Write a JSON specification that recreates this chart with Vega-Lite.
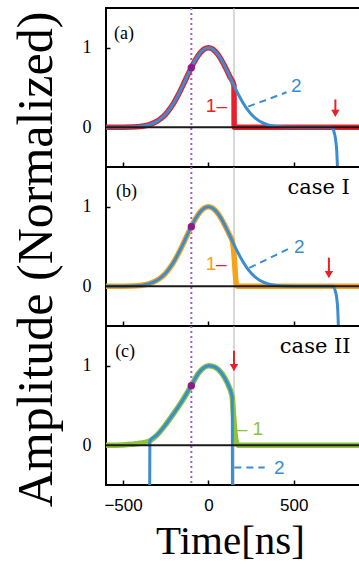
{
  "$schema": "https://vega.github.io/schema/vega-lite/v6.json",
  "padding": {"left": 9, "top": 6, "right": 0, "bottom": 0},
  "spacing": 0,
  "bounds": "flush",
  "config": {
    "view": {"stroke": "black", "strokeWidth": 2},
    "axis": {"grid": false, "domain": false, "tickColor": "black", "labelColor": "black", "titleColor": "black"}
  },
  "datasets": {
    "a1": [{"x":-600,"y":0},{"x":-550,"y":0.0002},{"x":-500,"y":0.0008},{"x":-450,"y":0.003},{"x":-400,"y":0.010},{"x":-350,"y":0.030},{"x":-300,"y":0.076},{"x":-275,"y":0.114},{"x":-250,"y":0.166},{"x":-225,"y":0.234},{"x":-200,"y":0.317},{"x":-175,"y":0.415},{"x":-150,"y":0.524},{"x":-125,"y":0.639},{"x":-100,"y":0.750},{"x":-75,"y":0.851},{"x":-50,"y":0.931},{"x":-25,"y":0.982},{"x":0,"y":1},{"x":25,"y":0.982},{"x":50,"y":0.931},{"x":75,"y":0.851},{"x":100,"y":0.750},{"x":125,"y":0.639},{"x":150,"y":0.524},{"x":151,"y":0},{"x":900,"y":0}],
    "a2": [{"x":-600,"y":0},{"x":-550,"y":0.0002},{"x":-500,"y":0.0008},{"x":-450,"y":0.003},{"x":-400,"y":0.010},{"x":-350,"y":0.030},{"x":-300,"y":0.076},{"x":-275,"y":0.114},{"x":-250,"y":0.166},{"x":-225,"y":0.234},{"x":-200,"y":0.317},{"x":-175,"y":0.415},{"x":-150,"y":0.524},{"x":-125,"y":0.639},{"x":-100,"y":0.750},{"x":-75,"y":0.851},{"x":-50,"y":0.931},{"x":-25,"y":0.982},{"x":0,"y":1},{"x":25,"y":0.982},{"x":50,"y":0.931},{"x":75,"y":0.851},{"x":100,"y":0.750},{"x":125,"y":0.639},{"x":150,"y":0.524},{"x":175,"y":0.415},{"x":200,"y":0.317},{"x":225,"y":0.234},{"x":250,"y":0.166},{"x":275,"y":0.114},{"x":300,"y":0.076},{"x":350,"y":0.030},{"x":400,"y":0.010},{"x":450,"y":0.003},{"x":500,"y":0.0008},{"x":550,"y":0.0002},{"x":600,"y":0},{"x":700,"y":0},{"x":722,"y":0},{"x":735,"y":-0.05},{"x":745,"y":-0.15},{"x":752,"y":-0.3},{"x":758,"y":-0.6}],
    "b1": [{"x":-600,"y":0},{"x":-550,"y":0.0002},{"x":-500,"y":0.0008},{"x":-450,"y":0.003},{"x":-400,"y":0.010},{"x":-350,"y":0.030},{"x":-300,"y":0.076},{"x":-275,"y":0.114},{"x":-250,"y":0.166},{"x":-225,"y":0.234},{"x":-200,"y":0.317},{"x":-175,"y":0.415},{"x":-150,"y":0.524},{"x":-125,"y":0.639},{"x":-100,"y":0.750},{"x":-75,"y":0.851},{"x":-50,"y":0.931},{"x":-25,"y":0.982},{"x":0,"y":1},{"x":25,"y":0.982},{"x":50,"y":0.931},{"x":75,"y":0.851},{"x":100,"y":0.750},{"x":125,"y":0.639},{"x":140,"y":0.57},{"x":148,"y":0.45},{"x":154,"y":0.28},{"x":159,"y":0.12},{"x":163,"y":0.03},{"x":168,"y":0},{"x":900,"y":0}],
    "b2": [{"x":-600,"y":0},{"x":-550,"y":0.0002},{"x":-500,"y":0.0008},{"x":-450,"y":0.003},{"x":-400,"y":0.010},{"x":-350,"y":0.030},{"x":-300,"y":0.076},{"x":-275,"y":0.114},{"x":-250,"y":0.166},{"x":-225,"y":0.234},{"x":-200,"y":0.317},{"x":-175,"y":0.415},{"x":-150,"y":0.524},{"x":-125,"y":0.639},{"x":-100,"y":0.750},{"x":-75,"y":0.851},{"x":-50,"y":0.931},{"x":-25,"y":0.982},{"x":0,"y":1},{"x":25,"y":0.982},{"x":50,"y":0.931},{"x":75,"y":0.851},{"x":100,"y":0.750},{"x":125,"y":0.639},{"x":150,"y":0.524},{"x":175,"y":0.415},{"x":200,"y":0.317},{"x":225,"y":0.234},{"x":250,"y":0.166},{"x":275,"y":0.114},{"x":300,"y":0.076},{"x":350,"y":0.030},{"x":400,"y":0.010},{"x":450,"y":0.003},{"x":500,"y":0.0008},{"x":550,"y":0.0002},{"x":600,"y":0},{"x":700,"y":0},{"x":730,"y":0},{"x":742,"y":-0.05},{"x":752,"y":-0.15},{"x":758,"y":-0.3},{"x":763,"y":-0.6}],
    "c1": [{"x":-600,"y":0},{"x":-550,"y":0.001},{"x":-500,"y":0.004},{"x":-450,"y":0.012},{"x":-400,"y":0.025},{"x":-343,"y":0.055},{"x":-300,"y":0.13},{"x":-250,"y":0.26},{"x":-200,"y":0.41},{"x":-150,"y":0.57},{"x":-100,"y":0.75},{"x":-60,"y":0.9},{"x":-30,"y":0.97},{"x":0,"y":1},{"x":30,"y":0.99},{"x":60,"y":0.95},{"x":95,"y":0.85},{"x":120,"y":0.74},{"x":135,"y":0.65},{"x":140,"y":0.6},{"x":146,"y":0.42},{"x":152,"y":0.24},{"x":158,"y":0.11},{"x":165,"y":0.03},{"x":175,"y":0},{"x":900,"y":0}],
    "c2": [{"x":-344,"y":-0.6},{"x":-343,"y":0.055},{"x":-300,"y":0.13},{"x":-250,"y":0.26},{"x":-200,"y":0.41},{"x":-150,"y":0.57},{"x":-100,"y":0.75},{"x":-60,"y":0.9},{"x":-30,"y":0.97},{"x":0,"y":1},{"x":30,"y":0.99},{"x":60,"y":0.95},{"x":95,"y":0.85},{"x":120,"y":0.74},{"x":135,"y":0.65},{"x":140,"y":0.6},{"x":141,"y":-0.6}],
    "at": [{"x":47,"y":0.27,"t":"1–","s":"r"},{"x":515,"y":0.52,"t":"2","s":"b"}],
    "bt": [{"x":15,"y":0.28,"t":"1","s":"o"},{"x":76,"y":0.28,"t":"–","s":"r"},{"x":532,"y":0.5,"t":"2","s":"b"}],
    "ct": [{"x":243,"y":0.2,"t":"– 1","s":"g"},{"x":415,"y":-0.29,"t":"2","s":"b"}],
    "as": [{"x":-494,"y":1.17,"t":"(a)"}],
    "bs": [{"x":-480,"y":1.18,"t":"(b)"}],
    "cs": [{"x":-488,"y":1.17,"t":"(c)"}],
    "bcase": [{"x":646,"y":1.23,"t":"case I"}],
    "ccase": [{"x":626,"y":1.23,"t":"case II"}],
    "al": [{"x":233,"y":0.26},{"x":458,"y":0.44}],
    "bl": [{"x":240,"y":0.23},{"x":468,"y":0.47}],
    "cl": [{"x":152,"y":-0.28},{"x":330,"y":-0.28}],
    "pt": [{"x":-100,"y":0.75}],
    "aar": [{"x":744,"y":0.35,"y2":0.2,"yh":0.175}],
    "bar": [{"x":706,"y":0.36,"y2":0.17,"yh":0.145}],
    "car": [{"x":150,"y":1.19,"y2":0.99,"yh":0.975}]
  },
  "vconcat": [
    {
      "width": 256, "height": 159,
      "data": {"values": [{}]},
      "layer": [
        {"mark": {"type": "rule", "color": "#b3b3b3", "strokeWidth": 1}, "encoding": {"x": {"datum": 150, "type": "quantitative", "scale": {"domain": [-600, 900], "nice": false}, "axis": {"values": [-500, 0, 500], "labels": false, "tickSize": -5, "tickWidth": 1.5, "title": null}}}},
        {"mark": {"type": "rule", "color": "#9b5fc8", "strokeWidth": 2, "strokeDash": [2, 3]}, "encoding": {"x": {"datum": -100, "type": "quantitative"}}},
        {"data": {"name": "a1"}, "mark": {"type": "line", "color": "#e8202a", "strokeWidth": 5.5, "interpolate": "monotone", "clip": true}, "encoding": {"x": {"field": "x", "type": "quantitative"}, "y": {"field": "y", "type": "quantitative", "scale": {"domain": [-0.5, 1.5], "nice": false}, "axis": {"values": [0, 1], "format": ".0f", "tickSize": -4, "tickWidth": 1.5, "labelFont": "Liberation Serif", "labelFontSize": 18, "labelPadding": 19, "title": null}}}},
        {"data": {"name": "a2"}, "mark": {"type": "line", "color": "#3a8dd0", "strokeWidth": 3, "interpolate": "monotone", "clip": true}, "encoding": {"x": {"field": "x", "type": "quantitative"}, "y": {"field": "y", "type": "quantitative"}}},
        {"mark": {"type": "rule", "color": "#1a1a1a", "strokeWidth": 2}, "encoding": {"y": {"datum": 0, "type": "quantitative"}}},
        {"data": {"name": "al"}, "mark": {"type": "line", "color": "#3a8dd0", "strokeWidth": 2, "strokeDash": [7, 5]}, "encoding": {"x": {"field": "x", "type": "quantitative"}, "y": {"field": "y", "type": "quantitative"}}},
        {"data": {"name": "aar"}, "mark": {"type": "rule", "color": "#e8202a", "strokeWidth": 2}, "encoding": {"x": {"field": "x", "type": "quantitative"}, "y": {"field": "y", "type": "quantitative"}, "y2": {"field": "y2"}}},
        {"data": {"name": "aar"}, "mark": {"type": "point", "shape": "triangle-down", "filled": true, "color": "#e8202a", "size": 70, "opacity": 1}, "encoding": {"x": {"field": "x", "type": "quantitative"}, "y": {"field": "yh", "type": "quantitative"}}},
        {"data": {"name": "at"}, "mark": {"type": "text", "font": "Liberation Sans", "fontSize": 19}, "encoding": {"x": {"field": "x", "type": "quantitative"}, "y": {"field": "y", "type": "quantitative"}, "text": {"field": "t"}, "color": {"field": "s", "type": "nominal", "scale": {"domain": ["r", "b", "o", "g"], "range": ["#e8202a", "#3a8dd0", "#f5a31a", "#8cc43c"]}, "legend": null}}},
        {"data": {"name": "as"}, "mark": {"type": "text", "font": "Liberation Serif", "fontSize": 18, "color": "black"}, "encoding": {"x": {"field": "x", "type": "quantitative"}, "y": {"field": "y", "type": "quantitative"}, "text": {"field": "t"}}},
        {"data": {"name": "pt"}, "mark": {"type": "circle", "color": "#8e1b8e", "size": 55, "opacity": 1}, "encoding": {"x": {"field": "x", "type": "quantitative"}, "y": {"field": "y", "type": "quantitative"}}}
      ]
    },
    {
      "width": 256, "height": 159,
      "data": {"values": [{}]},
      "layer": [
        {"mark": {"type": "rule", "color": "#b3b3b3", "strokeWidth": 1}, "encoding": {"x": {"datum": 150, "type": "quantitative", "scale": {"domain": [-600, 900], "nice": false}, "axis": {"values": [-500, 0, 500], "labels": false, "tickSize": -5, "tickWidth": 1.5, "title": null}}}},
        {"mark": {"type": "rule", "color": "#9b5fc8", "strokeWidth": 2, "strokeDash": [2, 3]}, "encoding": {"x": {"datum": -100, "type": "quantitative"}}},
        {"data": {"name": "b1"}, "mark": {"type": "line", "color": "#f5a31a", "strokeWidth": 5.5, "interpolate": "monotone", "clip": true}, "encoding": {"x": {"field": "x", "type": "quantitative"}, "y": {"field": "y", "type": "quantitative", "scale": {"domain": [-0.5, 1.5], "nice": false}, "axis": {"values": [0, 1], "format": ".0f", "tickSize": -4, "tickWidth": 1.5, "labelFont": "Liberation Serif", "labelFontSize": 18, "labelPadding": 19, "title": "Amplitude (Normalized)", "titleFont": "Liberation Serif", "titleFontSize": 50, "titleFontWeight": "normal", "titlePadding": 21, "titleY": 92}}}},
        {"data": {"name": "b2"}, "mark": {"type": "line", "color": "#3a8dd0", "strokeWidth": 3, "interpolate": "monotone", "clip": true}, "encoding": {"x": {"field": "x", "type": "quantitative"}, "y": {"field": "y", "type": "quantitative"}}},
        {"mark": {"type": "rule", "color": "#1a1a1a", "strokeWidth": 2}, "encoding": {"y": {"datum": 0, "type": "quantitative"}}},
        {"data": {"name": "bl"}, "mark": {"type": "line", "color": "#3a8dd0", "strokeWidth": 2, "strokeDash": [7, 5]}, "encoding": {"x": {"field": "x", "type": "quantitative"}, "y": {"field": "y", "type": "quantitative"}}},
        {"data": {"name": "bar"}, "mark": {"type": "rule", "color": "#e8202a", "strokeWidth": 2}, "encoding": {"x": {"field": "x", "type": "quantitative"}, "y": {"field": "y", "type": "quantitative"}, "y2": {"field": "y2"}}},
        {"data": {"name": "bar"}, "mark": {"type": "point", "shape": "triangle-down", "filled": true, "color": "#e8202a", "size": 70, "opacity": 1}, "encoding": {"x": {"field": "x", "type": "quantitative"}, "y": {"field": "yh", "type": "quantitative"}}},
        {"data": {"name": "bt"}, "mark": {"type": "text", "font": "Liberation Sans", "fontSize": 19}, "encoding": {"x": {"field": "x", "type": "quantitative"}, "y": {"field": "y", "type": "quantitative"}, "text": {"field": "t"}, "color": {"field": "s", "type": "nominal", "scale": {"domain": ["r", "b", "o", "g"], "range": ["#e8202a", "#3a8dd0", "#f5a31a", "#8cc43c"]}, "legend": null}}},
        {"data": {"name": "bs"}, "mark": {"type": "text", "font": "Liberation Serif", "fontSize": 18, "color": "black"}, "encoding": {"x": {"field": "x", "type": "quantitative"}, "y": {"field": "y", "type": "quantitative"}, "text": {"field": "t"}}},
        {"data": {"name": "bcase"}, "mark": {"type": "text", "font": "DejaVu Serif", "fontSize": 21, "color": "black"}, "encoding": {"x": {"field": "x", "type": "quantitative"}, "y": {"field": "y", "type": "quantitative"}, "text": {"field": "t"}}},
        {"data": {"name": "pt"}, "mark": {"type": "circle", "color": "#8e1b8e", "size": 55, "opacity": 1}, "encoding": {"x": {"field": "x", "type": "quantitative"}, "y": {"field": "y", "type": "quantitative"}}}
      ]
    },
    {
      "width": 256, "height": 159,
      "data": {"values": [{}]},
      "layer": [
        {"mark": {"type": "rule", "color": "#b3b3b3", "strokeWidth": 1}, "encoding": {"x": {"datum": 150, "type": "quantitative", "scale": {"domain": [-600, 900], "nice": false}, "axis": {"values": [-500, 0, 500], "labels": true, "tickSize": -5, "tickWidth": 1.5, "labelFont": "Liberation Sans", "labelFontSize": 17, "labelPadding": 17, "title": "Time[ns]", "titleFont": "Liberation Serif", "titleFontSize": 41, "titleFontWeight": "normal", "titlePadding": 8, "titleX": 124}}}},
        {"mark": {"type": "rule", "color": "#9b5fc8", "strokeWidth": 2, "strokeDash": [2, 3]}, "encoding": {"x": {"datum": -100, "type": "quantitative"}}},
        {"data": {"name": "c1"}, "mark": {"type": "line", "color": "#8cc43c", "strokeWidth": 5.5, "interpolate": "monotone", "clip": true}, "encoding": {"x": {"field": "x", "type": "quantitative"}, "y": {"field": "y", "type": "quantitative", "scale": {"domain": [-0.5, 1.5], "nice": false}, "axis": {"values": [0, 1], "format": ".0f", "tickSize": -4, "tickWidth": 1.5, "labelFont": "Liberation Serif", "labelFontSize": 18, "labelPadding": 19, "title": null}}}},
        {"data": {"name": "c2"}, "mark": {"type": "line", "color": "#3a8dd0", "strokeWidth": 3, "interpolate": "monotone", "clip": true}, "encoding": {"x": {"field": "x", "type": "quantitative"}, "y": {"field": "y", "type": "quantitative"}}},
        {"mark": {"type": "rule", "color": "#1a1a1a", "strokeWidth": 2}, "encoding": {"y": {"datum": 0, "type": "quantitative"}}},
        {"data": {"name": "cl"}, "mark": {"type": "line", "color": "#3a8dd0", "strokeWidth": 2, "strokeDash": [7, 5]}, "encoding": {"x": {"field": "x", "type": "quantitative"}, "y": {"field": "y", "type": "quantitative"}}},
        {"data": {"name": "car"}, "mark": {"type": "rule", "color": "#e8202a", "strokeWidth": 2}, "encoding": {"x": {"field": "x", "type": "quantitative"}, "y": {"field": "y", "type": "quantitative"}, "y2": {"field": "y2"}}},
        {"data": {"name": "car"}, "mark": {"type": "point", "shape": "triangle-down", "filled": true, "color": "#e8202a", "size": 70, "opacity": 1}, "encoding": {"x": {"field": "x", "type": "quantitative"}, "y": {"field": "yh", "type": "quantitative"}}},
        {"data": {"name": "ct"}, "mark": {"type": "text", "font": "Liberation Sans", "fontSize": 19}, "encoding": {"x": {"field": "x", "type": "quantitative"}, "y": {"field": "y", "type": "quantitative"}, "text": {"field": "t"}, "color": {"field": "s", "type": "nominal", "scale": {"domain": ["r", "b", "o", "g"], "range": ["#e8202a", "#3a8dd0", "#f5a31a", "#8cc43c"]}, "legend": null}}},
        {"data": {"name": "cs"}, "mark": {"type": "text", "font": "Liberation Serif", "fontSize": 18, "color": "black"}, "encoding": {"x": {"field": "x", "type": "quantitative"}, "y": {"field": "y", "type": "quantitative"}, "text": {"field": "t"}}},
        {"data": {"name": "ccase"}, "mark": {"type": "text", "font": "DejaVu Serif", "fontSize": 21, "color": "black"}, "encoding": {"x": {"field": "x", "type": "quantitative"}, "y": {"field": "y", "type": "quantitative"}, "text": {"field": "t"}}},
        {"data": {"name": "pt"}, "mark": {"type": "circle", "color": "#8e1b8e", "size": 55, "opacity": 1}, "encoding": {"x": {"field": "x", "type": "quantitative"}, "y": {"field": "y", "type": "quantitative"}}}
      ]
    }
  ]
}
